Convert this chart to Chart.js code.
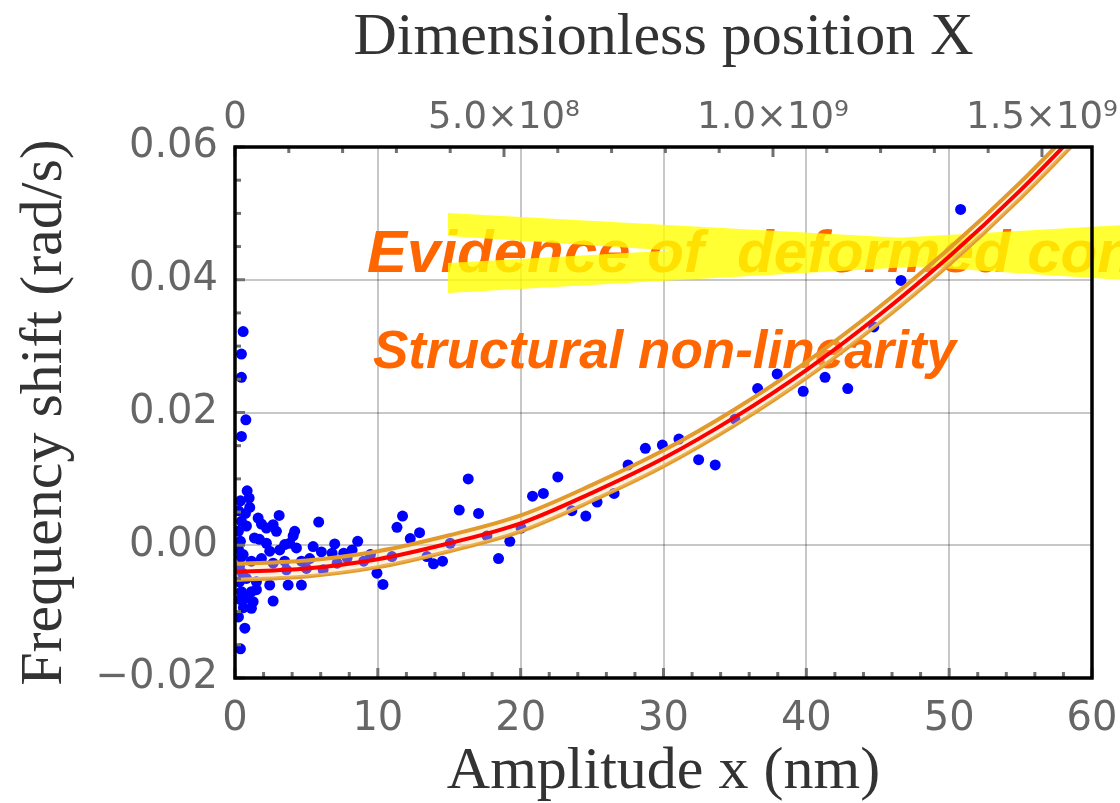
<!DOCTYPE html>
<html><head><meta charset="utf-8">
<script src="https://cdn.jsdelivr.net/npm/chart.js@4/dist/chart.umd.min.js"></script>
<style>html,body{margin:0;padding:0;background:#fff;}#wrap{width:1120px;height:803px;}</style>
</head><body><div id="wrap"><canvas id="c" width="1120" height="803"></canvas></div>
<script>
// ---- data ----
const dataX = [0.57,0.45,0.45,0.76,0.45,0.85,0.99,1.03,0.38,0.24,0.45,0.24,0.38,0.24,0.45,0.31,0.52,0.31,0.45,0.38,0.59,0.24,0.69,0.38,0.73,0.80,
  1.62,1.85,2.20,2.67,3.09,2.90,1.71,2.20,1.36,4.18,4.07,3.83,4.30,2.43,3.13,3.48,0.57,1.15,1.85,2.67,3.48,4.65,5.23,5.47,6.05,5.86,6.98,6.17,5.00,3.60,
  1.50,0.80,2.43,3.72,4.65,1.15,1.50,0.80,1.27,1.15,2.67,6.80,7.61,8.20,8.59,7.15,7.85,9.01,9.48,9.94,10.36,10.99,11.34,11.73,12.27,12.92,13.44,13.90,
  14.53,15.07,15.70,16.33,17.05,17.64,18.45,19.24,20.03,20.83,21.59,22.60,23.58,24.56,25.35,26.54,27.52,28.73,29.92,31.08,32.46,33.62,35.00,36.59,37.96,
  39.78,41.31,42.90,44.72,46.63,50.80];
const dataY = [0.0322,0.0288,0.0253,0.0189,0.0164,0.0082,0.0071,0.0057,0.0067,0.0052,0.0036,0.0021,0.0006,-0.0006,-0.0018,-0.0032,-0.0042,-0.0055,-0.0070,-0.0082,-0.0094,-0.0108,-0.0125,-0.0156,0.0048,0.0029,
  0.0041,0.0032,0.0026,0.0031,0.0045,0.0021,0.0009,0.0003,0.0011,0.0021,0.0014,0.0003,-0.0004,-0.0009,-0.0007,0.0001,-0.0014,-0.0024,-0.0020,-0.0027,-0.0024,-0.0024,-0.0020,-0.0002,-0.0010,0.0035,0.0002,-0.0037,-0.0035,-0.0037,
  -0.0055,-0.0050,-0.0060,-0.0060,-0.0060,-0.0070,-0.0067,-0.0080,-0.0085,-0.0095,-0.0084,-0.0012,-0.0012,-0.0007,0.0006,-0.0027,-0.0019,-0.0024,-0.0014,-0.0042,-0.0059,-0.0017,0.0027,0.0044,0.0010,0.0019,-0.0017,-0.0028,
  -0.0024,0.0003,0.0053,0.0100,0.0048,0.0014,-0.0020,0.0006,0.0026,0.0074,0.0078,0.0103,0.0052,0.0044,0.0065,0.0078,0.0121,0.0146,0.0151,0.0160,0.0129,0.0121,0.0190,0.0236,0.0258,
  0.0232,0.0253,0.0236,0.0329,0.0399,0.0506];
const fitX = [0,5,10,15,20,25,30,35,40,45,50,55,60];
const fitY = [-0.0040,-0.0035,-0.0021,0.0003,0.0033,0.0079,0.0131,0.0193,0.0264,0.0345,0.0435,0.0535,0.0645];
const bandUpper = [-0.0028,-0.0023,-0.0009,0.0015,0.0045,0.0091,0.0143,0.0205,0.0276,0.0357,0.0447,0.0547,0.0657];
const bandLower = [-0.0052,-0.0047,-0.0033,-0.0009,0.0021,0.0067,0.0119,0.0181,0.0252,0.0333,0.0423,0.0523,0.0633];
const xMajorTicks = [0,10,20,30,40,50,60];
const yMajorTicks = [-0.02,0,0.02,0.04,0.06];
const topMajorTicks = [0,5e8,1e9,1.5e9];
const topTickLabels = ['0','5.0\u00d710\u2078','1.0\u00d710\u2079','1.5\u00d710\u2079'];
const topMinorStep = 1e8;
const topMax = 1.593e9;
const xTitle = 'Amplitude x (nm)';
const yTitle = 'Frequency shift (rad/s)';
const topTitle = 'Dimensionless position X';
const note1 = 'Evidence of  deformed con';
const note2 = 'Structural non-linearity';

// ---- helpers ----
const near = (v, list) => list.findIndex(m => Math.abs(v - m) < Math.max(1e-9, Math.abs(m) * 1e-6 + 1e-9));
const pts = (xs, ys) => xs.map((x, i) => ({x, y: ys[i]}));
const tickFont = {family: 'DejaVu Sans', size: 40};
const titleFont = {family: 'Liberation Serif', size: 60, lineHeight: 1};
const zeroPad = s => { s.paddingLeft = 0; s.paddingRight = 0; s.paddingTop = 0; s.paddingBottom = 0; };

const notes = {
  id: 'notes',
  beforeDatasetsDraw(chart) {
    const ctx = chart.ctx;
    ctx.save();
    ctx.fillStyle = '#FF6600';
    ctx.textBaseline = 'alphabetic';
    ctx.textAlign = 'left';
    ctx.font = 'italic bold 53px "Liberation Sans"';
    ctx.fillText(note2, 373, 368);
    ctx.font = 'italic bold 60px "Liberation Sans"';
    ctx.fillText(note1, 367, 272);
    ctx.fillStyle = 'rgba(255,255,0,0.8)';
    ctx.beginPath();
    ctx.moveTo(448, 213); ctx.lineTo(1125, 250); ctx.lineTo(1125, 280); ctx.lineTo(448, 236); ctx.closePath();
    ctx.moveTo(448, 263); ctx.lineTo(1125, 225); ctx.lineTo(1125, 255); ctx.lineTo(448, 293); ctx.closePath();
    ctx.fill('nonzero');
    ctx.restore();
  }
};

const frame = {
  id: 'frame',
  afterDatasetsDraw(chart) {
    const {ctx, chartArea: a, scales} = chart;
    ctx.save();
    ctx.strokeStyle = '#707070';
    ctx.lineWidth = 3;
    ctx.lineCap = 'butt';
    scales.x.ticks.forEach(t => {
      const p = scales.x.getPixelForValue(t.value);
      const L = near(t.value, xMajorTicks) >= 0 ? 10 : 6;
      ctx.beginPath(); ctx.moveTo(p, a.bottom); ctx.lineTo(p, a.bottom - L); ctx.stroke();
    });
    scales.x2.ticks.forEach(t => {
      const p = scales.x2.getPixelForValue(t.value);
      const L = near(t.value, topMajorTicks) >= 0 ? 10 : 6;
      ctx.beginPath(); ctx.moveTo(p, a.top); ctx.lineTo(p, a.top + L); ctx.stroke();
    });
    scales.y.ticks.forEach(t => {
      const p = scales.y.getPixelForValue(t.value);
      const L = near(t.value, yMajorTicks) >= 0 ? 10 : 6;
      ctx.beginPath(); ctx.moveTo(a.left, p); ctx.lineTo(a.left + L, p); ctx.stroke();
    });
    ctx.strokeStyle = '#000';
    ctx.lineWidth = 3.5;
    ctx.strokeRect(a.left, a.top, a.right - a.left, a.bottom - a.top);
    ctx.restore();
  }
};

new Chart(document.getElementById('c'), {
  type: 'scatter',
  data: {
    datasets: [
      {label: 'upper', data: pts(fitX, bandUpper), showLine: true, borderColor: '#E29A2C', borderWidth: 4,
       pointRadius: 0, fill: '+1', backgroundColor: 'rgba(255,222,160,0.35)', cubicInterpolationMode: 'monotone', order: 1, clip: 0},
      {label: 'lower', data: pts(fitX, bandLower), showLine: true, borderColor: '#E29A2C', borderWidth: 4,
       pointRadius: 0, fill: false, cubicInterpolationMode: 'monotone', order: 1, clip: 0},
      {label: 'fit', data: pts(fitX, fitY), showLine: true, borderColor: '#FF0000', borderWidth: 4,
       pointRadius: 0, fill: false, cubicInterpolationMode: 'monotone', order: 0, clip: 0},
      {label: 'data', data: pts(dataX, dataY), pointRadius: 5.5, pointHoverRadius: 5.5, backgroundColor: '#0000FF',
       borderWidth: 0, order: 3}
    ]
  },
  options: {
    responsive: false, animation: false, events: [],
    layout: {padding: {left: 0, right: 28, top: 0, bottom: 0}},
    plugins: {legend: {display: false}, tooltip: {enabled: false}},
    scales: {
      x: {
        type: 'linear', position: 'bottom', min: 0, max: 60,
        ticks: {stepSize: 2, maxTicksLimit: 1000, autoSkip: false, maxRotation: 0, padding: 18, color: '#666', font: tickFont,
          callback: v => near(v, xMajorTicks) >= 0 ? String(xMajorTicks[near(v, xMajorTicks)]) : ''},
        grid: {drawTicks: false, lineWidth: 2,
          color: c => (c.tick && near(c.tick.value, [10,20,30,40,50]) >= 0) ? 'rgba(0,0,0,0.22)' : 'rgba(0,0,0,0)'},
        border: {display: false},
        title: {display: true, text: xTitle, color: '#333', font: titleFont, padding: {top: 0, bottom: 1}},
        afterFit: s => { s.height = 125; zeroPad(s); }
      },
      x2: {
        type: 'linear', position: 'top', min: 0, max: topMax,
        afterBuildTicks: s => {
          const t = [];
          for (let v = 0; v <= s.max; v += topMinorStep) t.push({value: v});
          s.ticks = t;
        },
        ticks: {autoSkip: false, maxRotation: 0, padding: 6, color: '#666',
          font: {family: 'DejaVu Sans', size: 37},
          callback: v => near(v, topMajorTicks) >= 0 ? topTickLabels[near(v, topMajorTicks)] : ''},
        grid: {display: false, drawTicks: false},
        border: {display: false},
        title: {display: true, text: topTitle, color: '#333', font: titleFont, padding: {top: 8, bottom: 0}},
        afterFit: s => { s.height = 147; zeroPad(s); }
      },
      y: {
        type: 'linear', position: 'left', min: -0.02, max: 0.06,
        ticks: {stepSize: 0.005, maxTicksLimit: 1000, autoSkip: false, padding: 17, color: '#666', font: tickFont,
          callback: v => {
            const i = near(v, yMajorTicks);
            if (i < 0) return '';
            const m = yMajorTicks[i];
            return (m < 0 ? '\u2212' : '') + Math.abs(m).toFixed(2);
          }},
        grid: {drawTicks: false, lineWidth: 2,
          color: c => (c.tick && near(c.tick.value, [0,0.02,0.04]) >= 0) ? 'rgba(0,0,0,0.22)' : 'rgba(0,0,0,0)'},
        border: {display: false},
        title: {display: true, text: yTitle, color: '#333', font: titleFont, padding: {top: 15, bottom: 0}},
        afterFit: s => { s.width = 235; zeroPad(s); }
      }
    }
  },
  plugins: [notes, frame]
});
</script>
</body></html>
